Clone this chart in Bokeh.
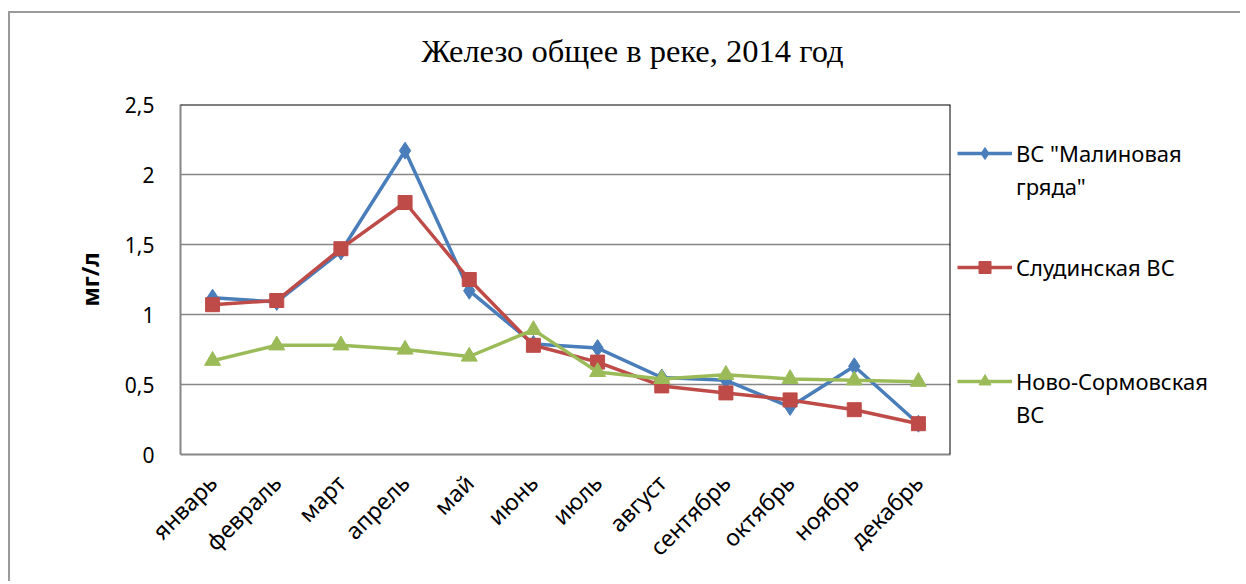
import math
from bokeh.plotting import figure
from bokeh.layouts import row
from bokeh.models import (Legend, LegendItem, Span, Title, CustomJSTickFormatter, FixedTicker)
from bokeh.embed import file_html
from bokeh.resources import INLINE

# ---- data ----
months = ["январь", "февраль", "март", "апрель", "май", "июнь",
          "июль", "август", "сентябрь", "октябрь", "ноябрь", "декабрь"]
malinovaya = [1.12, 1.09, 1.45, 2.17, 1.17, 0.79, 0.76, 0.55, 0.53, 0.34, 0.63, 0.22]
sludinskaya = [1.07, 1.10, 1.47, 1.80, 1.25, 0.78, 0.66, 0.49, 0.44, 0.39, 0.32, 0.22]
novosormovskaya = [0.67, 0.78, 0.78, 0.75, 0.70, 0.89, 0.59, 0.54, 0.57, 0.54, 0.53, 0.52]
y_ticks = [0, 0.5, 1, 1.5, 2, 2.5]
title_text = "Железо общее  в реке, 2014 год"
y_label = "мг/л"
series_names = [["ВС \"Малиновая", "гряда\""], ["Слудинская ВС"], ["Ново-Сормовская", "ВС"]]

BLUE = "#4A7EBB"
RED = "#BE4B48"
GREEN = "#9BBB59"
GRID = "#868686"
FONT = "Noto Sans"
STYLES = [dict(color=BLUE, marker="diamond", size=17),
          dict(color=RED, marker="square", size=14),
          dict(color=GREEN, marker="triangle", size=16)]
SERIES = [malinovaya, sludinskaya, novosormovskaya]

p = figure(width=942, height=568, x_range=months, y_range=(0, 2.5),
           output_backend="svg", toolbar_location=None, title=None,
           min_border_left=170, min_border_right=2,
           min_border_top=91, min_border_bottom=127)
p.outline_line_color = None
p.background_fill_color = "white"
p.border_fill_color = "white"
p.x_range.range_padding = 0

# title (a thin spacer title keeps it up and away from the plot area)
p.add_layout(Title(text=" ", text_font_size="1px", standoff=28), "above")
p.add_layout(Title(text=title_text, align="left", offset=241, standoff=10,
                   text_font="Liberation Serif", text_font_size="32.5px",
                   text_font_style="normal", text_color="black"), "above")

# grid
p.xgrid.grid_line_color = None
p.ygrid.grid_line_color = GRID
p.ygrid.grid_line_width = 1.5
p.yaxis.ticker = FixedTicker(ticks=y_ticks)

# y axis
p.yaxis.formatter = CustomJSTickFormatter(code="return tick.toString().replace('.', ',');")
p.yaxis.axis_line_color = GRID
p.yaxis.axis_line_width = 2
p.yaxis.major_tick_line_color = None
p.yaxis.major_tick_out = 0
p.yaxis.minor_tick_line_color = None
p.yaxis.minor_tick_out = 0
p.yaxis.major_label_standoff = 26
p.yaxis.major_label_text_font = FONT
p.yaxis.major_label_text_font_size = "21px"
p.yaxis.major_label_text_color = "black"
p.yaxis.axis_label = y_label
p.yaxis.axis_label_text_font = FONT
p.yaxis.axis_label_text_font_style = "bold"
p.yaxis.axis_label_text_font_size = "23px"
p.yaxis.axis_label_text_color = "black"
p.yaxis.axis_label_standoff = 16

# x axis
p.xaxis.axis_line_color = GRID
p.xaxis.axis_line_width = 2
p.xaxis.major_tick_line_color = None
p.xaxis.major_tick_out = 0
p.xaxis.minor_tick_line_color = None
p.xaxis.major_label_orientation = math.pi / 4
p.xaxis.major_label_standoff = 24
p.xaxis.major_label_text_font = FONT
p.xaxis.major_label_text_font_size = "23px"
p.xaxis.major_label_text_color = "black"

# top and right borders of plot area
p.add_layout(Span(location=2.5, dimension="width", line_color="black", line_width=2))
p.add_layout(Span(location=len(months), dimension="height", line_color="black", line_width=2))

# series
for vals, st in zip(SERIES, STYLES):
    p.line(months, vals, line_color=st["color"], line_width=3.5)
    p.scatter(months, vals, marker=st["marker"], size=st["size"],
              fill_color=st["color"], line_color=st["color"])

# legend panel: a separate figure whose frame holds the legends (series drawn
# there fall outside its y range, so only their legend glyphs show)
lf = figure(width=288, height=568, x_range=months, y_range=(10, 11),
            output_backend="svg", toolbar_location=None,
            x_axis_type=None, y_axis_type=None,
            min_border=0, min_border_left=0, min_border_right=0,
            min_border_top=0, min_border_bottom=0)
lf.outline_line_color = None
lf.xgrid.visible = False
lf.ygrid.visible = False
lf.background_fill_color = "white"
lf.border_fill_color = "white"

legend_y = [252, 171, 24]
for vals, names, st, ly in zip(SERIES, series_names, STYLES, legend_y):
    ln = lf.line(months, vals, line_color=st["color"], line_width=3.5)
    mk = lf.scatter(months, vals, marker=st["marker"], size=st["size"] * 0.75,
                    fill_color=st["color"], line_color=st["color"])
    items = [LegendItem(label=names[0], renderers=[ln, mk])]
    for extra in names[1:]:
        items.append(LegendItem(label=extra, renderers=[]))
    lg = Legend(items=items, location=(5, ly), orientation="vertical",
                glyph_width=55, glyph_height=30, label_height=33, spacing=0,
                padding=0, margin=0, label_standoff=4,
                label_text_font=FONT, label_text_font_size="22px",
                label_text_color="black", border_line_color=None,
                background_fill_alpha=0)
    lf.add_layout(lg)

layout = row(p, lf)
layout.styles = {"border-top": "2px solid #9a9a9a", "border-left": "2px solid #9a9a9a",
                 "margin-top": "11px", "margin-left": "8px"}

open("out.html", "w").write(file_html(layout, INLINE))
